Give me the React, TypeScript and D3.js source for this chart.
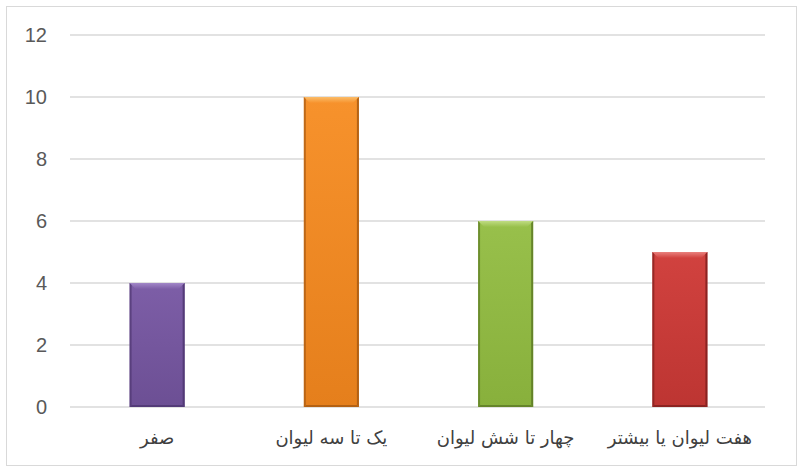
import { scaleBand, scaleLinear } from "d3"

const W = 802, H = 475
const ML = 70, MR = 35, MT = 35, MB = 68

const categories = ["صفر", "یک تا سه لیوان", "چهار تا شش لیوان", "هفت لیوان یا بیشتر"]
const values = [4, 10, 6, 5]
const yTicks = [0, 2, 4, 6, 8, 10, 12]
const barColors = [
  { main: "#7d5ea7", bottom: "#6c4f94", light: "#a287c8", dark: "#4e3670" },
  { main: "#f7922c", bottom: "#e57f1c", light: "#fbbd6a", dark: "#a85a12" },
  { main: "#98c04b", bottom: "#88b03c", light: "#bfdc82", dark: "#5d7a25" },
  { main: "#d1423f", bottom: "#bd3532", light: "#e9817d", dark: "#7f1f1d" },
]

export default function App() {
  const IW = W - ML - MR
  const IH = H - MT - MB
  const x = scaleBand<string>().domain(categories).range([0, IW]).paddingInner(0.684).paddingOuter(0.342)
  const y = scaleLinear().domain([0, 12]).range([IH, 0])
  const bw = x.bandwidth()

  return (
    <div style={{ position: "absolute", left: 0, top: 0 }}>
      <svg width={W} height={H} style={{ display: "block", background: "#fff" }}>
        <defs>
          {barColors.map((c, i) => (
            <linearGradient key={i} id={`fill${i}`} x1="0" x2="0" y1="0" y2="1">
              <stop offset="0" stopColor={c.main} />
              <stop offset="1" stopColor={c.bottom} />
            </linearGradient>
          ))}
          {barColors.map((c, i) => (
            <linearGradient key={i} id={`bevel${i}`} x1="0" x2="0" y1="0" y2="1">
              <stop offset="0" stopColor={c.light} />
              <stop offset="1" stopColor={c.main} />
            </linearGradient>
          ))}
        </defs>
        <rect x={6.5} y={6.5} width={790} height={459} fill="#fff" stroke="#d9d9d9" strokeWidth={1} />
        <g transform={`translate(${ML},${MT})`}>
          {yTicks.map(t => (
            <g key={t}>
              <line x1={0} x2={IW - 2} y1={y(t)} y2={y(t)} stroke="#d9d9d9" strokeWidth={1.6} />
              <text x={-23} y={y(t)} dy="0.35em" textAnchor="end" fontSize={20}
                fontFamily="Liberation Sans, Arial, sans-serif" fill="#595959">{t}</text>
            </g>
          ))}

          {categories.map((c, i) => {
            const x0 = x(c)!, x1 = x0 + bw
            const y0 = y(values[i]), y1 = y(0)
            const col = barColors[i]
            const b = 6, s = 2
            return (
              <g key={c}>
                <rect x={x0} y={y0} width={bw} height={y1 - y0} fill={`url(#fill${i})`} />
                {/* top bevel */}
                <polygon points={`${x0},${y0} ${x1},${y0} ${x1 - b},${y0 + b} ${x0 + b},${y0 + b}`}
                  fill={`url(#bevel${i})`} />
                {/* side bevels */}
                <polygon points={`${x0},${y0} ${x0 + s},${y0 + s} ${x0 + s},${y1 - s} ${x0},${y1}`}
                  fill={col.dark} opacity={0.7} />
                <polygon points={`${x1},${y0} ${x1 - s},${y0 + s} ${x1 - s},${y1 - s} ${x1},${y1}`}
                  fill={col.dark} opacity={0.85} />
                <polygon points={`${x0},${y1} ${x1},${y1} ${x1 - s},${y1 - s} ${x0 + s},${y1 - s}`}
                  fill={col.dark} opacity={0.8} />
                <text x={x0 + bw / 2} y={y1 + 31} dy="0.35em" textAnchor="middle" direction="rtl"
                  fontSize={18} fontFamily="DejaVu Sans, Liberation Sans, sans-serif" fill="#404040">{c}</text>
              </g>
            )
          })}
        </g>
      </svg>
    </div>
  )
}
